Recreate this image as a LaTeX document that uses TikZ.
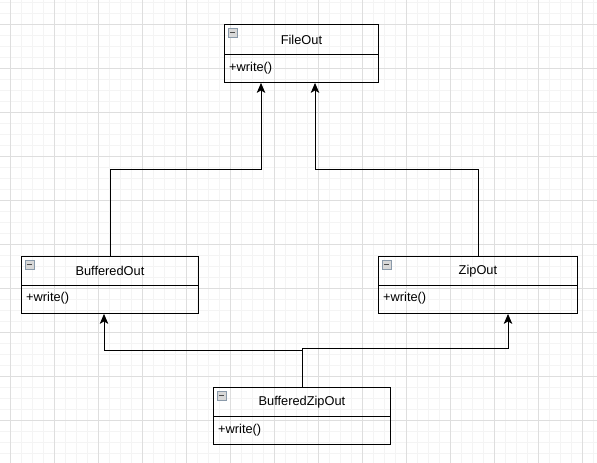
\documentclass[tikz,border=0pt]{standalone}
\usepackage{fontspec}
\setmainfont{Liberation Sans}
\usetikzlibrary{arrows.meta,calc}
\definecolor{gridminor}{HTML}{F4F4F4}
\definecolor{gridmajor}{HTML}{DEDEDE}
\definecolor{iconfill}{HTML}{D8D8D8}
\definecolor{iconedge}{HTML}{8A9AAA}
\tikzset{
  hdr/.style={draw=black, line width=0.9pt, anchor=north west, inner sep=0pt, font=\fontsize{12.8}{14}\selectfont, text=black},
  mtxt/.style={anchor=west, inner sep=0pt, font=\fontsize{12.8}{14}\selectfont},
  arr/.style={draw=black, line width=0.9pt, -{Stealth[length=10pt,width=8.5pt,inset=2.5pt]}},
}
\newcommand{\umlicon}[1]{%
  \draw[iconedge, fill=iconfill, line width=0.6pt] ($(#1.north west)+(4,4)$) rectangle ++(9,9);
  \draw[black!70, line width=1pt] ($(#1.north west)+(5.8,8.5)$) -- ++(5.4,0);
}
\begin{document}
\begin{tikzpicture}[x=1pt,y=-1pt]
\useasboundingbox (0,0) rectangle (597,463);
\fill[white] (0,0) rectangle (597,463);
% grid
\foreach \gx in {-1,10,...,597} \draw[gridminor, line width=0.6pt] (\gx,0) -- (\gx,463);
\foreach \gy in {2,13,...,463} \draw[gridminor, line width=0.6pt] (0,\gy) -- (597,\gy);
\foreach \gx in {10,54,...,597} \draw[gridmajor, line width=0.7pt] (\gx,0) -- (\gx,463);
\foreach \gy in {24,68,...,463} \draw[gridmajor, line width=0.7pt] (0,\gy) -- (597,\gy);

% FileOut
\node[hdr, minimum width=154pt, minimum height=30pt] (fo) at (224,24) {FileOut};
\node[hdr, minimum width=154pt, minimum height=28pt] (fob) at (224,54) {};
\node[mtxt] (fot) at (229,68) {+write()};
\umlicon{fo}

% BufferedOut
\node[hdr, minimum width=177pt, minimum height=29pt] (bo) at (21,256) {BufferedOut};
\node[hdr, minimum width=177pt, minimum height=28pt] (bob) at (21,285) {};
\node[mtxt] (bot) at (26,298.5) {+write()};
\umlicon{bo}

% ZipOut
\node[hdr, minimum width=199pt, minimum height=29pt] (zo) at (378,256) {ZipOut};
\node[hdr, minimum width=199pt, minimum height=28pt] (zob) at (378,285) {};
\node[mtxt] (zot) at (383,298.5) {+write()};
\umlicon{zo}

% BufferedZipOut
\node[hdr, minimum width=177pt, minimum height=29pt] (bz) at (213,387) {BufferedZipOut};
\node[hdr, minimum width=177pt, minimum height=28pt] (bzb) at (213,416) {};
\node[mtxt] (bzt) at (218,430) {+write()};
\umlicon{bz}

% connectors
\draw[arr] (bo.north) -- (bo.north |- 0,169) -- (261,169) -- (fob.south -| 261,0);
\draw[arr] (zo.north) -- (zo.north |- 0,169) -- (315,169) -- (fob.south -| 315,0);
\draw[arr] (bz.north) -- (bz.north |- 0,350) -- (104,350) -- (bob.south -| 104,0);
\draw[arr] (bz.north |- 0,350) -- (bz.north |- 0,348) -- (508,348) -- (zob.south -| 508,0);
\end{tikzpicture}
\end{document}
